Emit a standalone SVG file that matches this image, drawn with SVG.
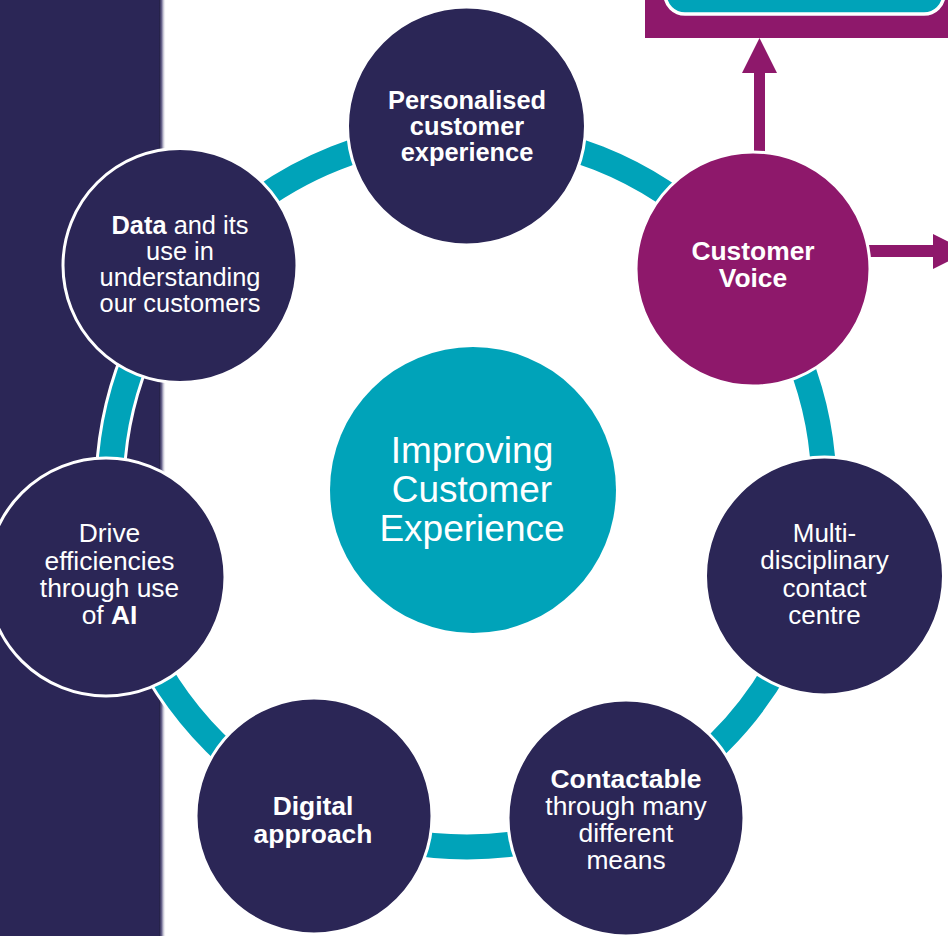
<svg xmlns="http://www.w3.org/2000/svg" width="948" height="936" viewBox="0 0 948 936">
  <defs>
    <style>
      .node { fill: #2B2656; stroke: #FFFFFF; stroke-width: 3; }
      .voice { fill: #8E186B; stroke: #FFFFFF; stroke-width: 3; }
      .hub { fill: #00A3B9; }
      .t { font-family: "Liberation Sans", Arial, Helvetica, sans-serif; fill: #FFFFFF; text-anchor: middle; }
      .b { font-weight: bold; }
      .arrow { fill: #8E186B; }
    </style>
    <linearGradient id="panelEdge" x1="0" y1="0" x2="1" y2="0">
      <stop offset="0" stop-color="#17133A"/>
      <stop offset="0.4" stop-color="#6E6A92"/>
      <stop offset="1" stop-color="#FFFFFF" stop-opacity="0"/>
    </linearGradient>
  </defs>

  <rect x="0" y="0" width="948" height="936" fill="#FFFFFF"/>

  <!-- side panel -->
  <g id="side-panel">
    <rect x="0" y="0" width="160" height="936" fill="#2B2656"/>
    <rect x="159" y="0" width="7" height="936" fill="url(#panelEdge)"/>
  </g>

  <!-- ring linking the nodes -->
  <g id="ring">
    <circle cx="467" cy="490" r="357" fill="none" stroke="#FFFFFF" stroke-width="31"/>
    <circle cx="467" cy="490" r="357" fill="none" stroke="#00A3B9" stroke-width="25"/>
  </g>

  <!-- arrows leaving Customer Voice -->
  <g id="connectors">
    <rect class="arrow" x="754" y="70" width="11" height="100"/>
    <polygon class="arrow" points="742,73 777,73 759.5,38"/>
    <rect class="arrow" x="850" y="245" width="86" height="12"/>
    <polygon class="arrow" points="933,234 933,269 968,251.5"/>
  </g>

  <g id="hub">
    <circle class="hub" cx="473" cy="490" r="143"/>
    <text class="t" font-size="37" x="472" y="462.5">Improving</text>
    <text class="t" font-size="37" x="472" y="501.5">Customer</text>
    <text class="t" font-size="37" x="472" y="540.5">Experience</text>
  </g>

  <g id="personalised">
    <circle class="node" cx="466.5" cy="126" r="119"/>
    <text class="t b" font-size="25.4" x="467" y="109">Personalised</text>
    <text class="t b" font-size="25.4" x="467" y="135">customer</text>
    <text class="t b" font-size="25.4" x="467" y="161">experience</text>
  </g>

  <g id="customer-voice">
    <circle class="voice" cx="753" cy="269" r="117"/>
    <text class="t b" font-size="26.4" x="753" y="260">Customer</text>
    <text class="t b" font-size="26.4" x="753" y="287">Voice</text>
  </g>

  <g id="contact-centre">
    <circle class="node" cx="824.5" cy="576" r="119"/>
    <text class="t" font-size="26" x="824.5" y="541.5">Multi-</text>
    <text class="t" font-size="26" x="824.5" y="569">disciplinary</text>
    <text class="t" font-size="26" x="824.5" y="597">contact</text>
    <text class="t" font-size="26" x="824.5" y="624">centre</text>
  </g>

  <g id="contactable">
    <circle class="node" cx="626" cy="818" r="118"/>
    <text class="t" font-size="26.4" x="626" y="788"><tspan class="b">Contactable</tspan></text>
    <text class="t" font-size="26.4" x="626" y="815">through many</text>
    <text class="t" font-size="26.4" x="626" y="842">different</text>
    <text class="t" font-size="26.4" x="626" y="869">means</text>
  </g>

  <g id="digital">
    <circle class="node" cx="314" cy="816" r="118"/>
    <text class="t b" font-size="26.4" x="313" y="815">Digital</text>
    <text class="t b" font-size="26.4" x="313" y="843">approach</text>
  </g>

  <g id="ai">
    <circle class="node" cx="106" cy="577" r="119"/>
    <text class="t" font-size="26.4" x="109.5" y="541.5">Drive</text>
    <text class="t" font-size="26.4" x="109.5" y="569.5">efficiencies</text>
    <text class="t" font-size="26.4" x="109.5" y="596.5">through use</text>
    <text class="t" font-size="26.4" x="109.5" y="624">of <tspan class="b">AI</tspan></text>
  </g>

  <g id="data">
    <circle class="node" cx="180" cy="265.5" r="117"/>
    <text class="t" font-size="25.4" x="180" y="233.5"><tspan class="b">Data</tspan> and its</text>
    <text class="t" font-size="25.4" x="180" y="260">use in</text>
    <text class="t" font-size="25.4" x="180" y="286">understanding</text>
    <text class="t" font-size="25.4" x="180" y="312">our customers</text>
  </g>

  <!-- destination box at top right -->
  <g id="voice-box">
    <rect x="645" y="-10" width="310" height="48" fill="#8E186B"/>
    <rect x="665" y="-40" width="279" height="54" rx="20" ry="20" fill="#00A3B9" stroke="#FFFFFF" stroke-width="3.5"/>
  </g>
</svg>
